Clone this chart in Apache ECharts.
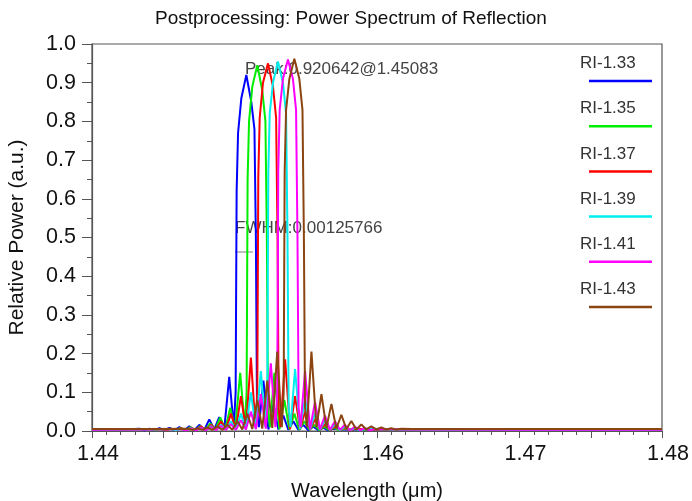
<!DOCTYPE html>
<html>
<head>
<meta charset="utf-8">
<script src="https://cdn.jsdelivr.net/npm/echarts@6/dist/echarts.min.js"></script>
<style>html,body{margin:0;padding:0;background:#fff}#c{width:692px;height:501px}</style>
</head>
<body>
<div id="c"></div>
<script>
// ---- data ----
const seriesNames = ['RI-1.33','RI-1.35','RI-1.37','RI-1.39','RI-1.41','RI-1.43'];
const seriesColors = ['#0000ff','#00ee00','#ff0000','#00eeee','#ff00ff','#8b4513'];

const wlBlue = [1.4400,1.4410,1.4420,1.4430,1.44333,1.44368,1.44403,1.44438,1.44473,1.44508,1.44543,1.44578,1.44613,1.44648,1.44683,1.44718,1.44753,1.44788,1.44823,1.44858,1.44893,1.44928,1.44963,1.44995,1.45008,1.45015,1.45025,1.45048,1.45083,1.45118,1.45140,1.45150,1.45158,1.45171,1.45203,1.45238,1.45273,1.45308,1.45343,1.45378,1.45413,1.45448,1.45483,1.45518,1.45553,1.45588,1.45623,1.45658,1.45693,1.4575,1.4590,1.4610,1.4650,1.4700,1.4750,1.4800];
const pwBlue = [0.003,0.004,0.004,0.005,0.006,0.002,0.006,0.002,0.007,0.002,0.008,0.002,0.010,0.002,0.012,0.002,0.016,0.003,0.030,0.004,0.036,0.004,0.140,0.010,0.100,0.620,0.770,0.860,0.920,0.850,0.780,0.500,0.060,0.010,0.130,0.004,0.070,0.004,0.040,0.003,0.025,0.003,0.016,0.002,0.011,0.002,0.008,0.002,0.006,0.004,0.004,0.003,0.003,0.003,0.003,0.003];

const wlGreen = [1.4400,1.4420,1.44410,1.44445,1.44480,1.44515,1.44550,1.44585,1.44620,1.44655,1.44690,1.44725,1.44760,1.44795,1.44830,1.44865,1.44900,1.44935,1.44970,1.45005,1.45040,1.45072,1.45085,1.45092,1.45102,1.45125,1.45160,1.45195,1.45217,1.45227,1.45235,1.45248,1.45280,1.45315,1.45350,1.45385,1.45420,1.45455,1.45490,1.45525,1.45560,1.45595,1.45630,1.45665,1.45700,1.45735,1.45770,1.4590,1.4620,1.4700,1.4800];
const pwGreen = [0.003,0.004,0.005,0.002,0.005,0.002,0.006,0.002,0.008,0.002,0.010,0.002,0.013,0.003,0.020,0.003,0.035,0.004,0.060,0.005,0.150,0.010,0.100,0.650,0.800,0.890,0.945,0.880,0.800,0.500,0.060,0.010,0.150,0.004,0.080,0.004,0.045,0.003,0.025,0.003,0.016,0.002,0.011,0.002,0.008,0.002,0.006,0.004,0.003,0.003,0.003];

const wlRed = [1.4400,1.4430,1.44485,1.44520,1.44555,1.44590,1.44625,1.44660,1.44695,1.44730,1.44765,1.44800,1.44835,1.44870,1.44905,1.44940,1.44975,1.45010,1.45045,1.45080,1.45115,1.45147,1.45160,1.45167,1.45177,1.45200,1.45235,1.45270,1.45292,1.45302,1.45310,1.45323,1.45355,1.45390,1.45425,1.45460,1.45495,1.45530,1.45565,1.45600,1.45635,1.45670,1.45705,1.45740,1.45775,1.45810,1.45845,1.4600,1.4650,1.4800];
const pwRed = [0.003,0.004,0.005,0.002,0.006,0.002,0.007,0.002,0.009,0.002,0.012,0.002,0.016,0.003,0.025,0.003,0.045,0.004,0.090,0.005,0.190,0.010,0.100,0.660,0.810,0.900,0.950,0.890,0.810,0.500,0.060,0.010,0.185,0.005,0.090,0.004,0.050,0.003,0.030,0.003,0.018,0.002,0.012,0.002,0.008,0.002,0.006,0.004,0.003,0.003];

const wlCyan = [1.4400,1.4435,1.44555,1.44590,1.44625,1.44660,1.44695,1.44730,1.44765,1.44800,1.44835,1.44870,1.44905,1.44940,1.44975,1.45010,1.45045,1.45080,1.45115,1.45150,1.45185,1.45217,1.45230,1.45237,1.45247,1.45270,1.45305,1.45340,1.45362,1.45372,1.45380,1.45393,1.45425,1.45460,1.45495,1.45530,1.45565,1.45600,1.45635,1.45670,1.45705,1.45740,1.45775,1.45810,1.45845,1.45880,1.45915,1.4610,1.4650,1.4800];
const pwCyan = [0.003,0.004,0.005,0.002,0.006,0.002,0.007,0.002,0.009,0.002,0.012,0.002,0.016,0.003,0.025,0.003,0.045,0.004,0.100,0.005,0.155,0.010,0.100,0.660,0.820,0.900,0.955,0.900,0.820,0.500,0.060,0.010,0.160,0.005,0.085,0.004,0.045,0.003,0.028,0.003,0.017,0.002,0.011,0.002,0.008,0.002,0.006,0.004,0.003,0.003];

const wlMagenta = [1.4400,1.4440,1.44625,1.44660,1.44695,1.44730,1.44765,1.44800,1.44835,1.44870,1.44905,1.44940,1.44975,1.45010,1.45045,1.45080,1.45115,1.45150,1.45185,1.45220,1.45255,1.45287,1.45300,1.45307,1.45317,1.45340,1.45375,1.45410,1.45432,1.45442,1.45450,1.45463,1.45495,1.45530,1.45565,1.45600,1.45635,1.45670,1.45705,1.45740,1.45775,1.45810,1.45845,1.45880,1.45915,1.45950,1.45985,1.4620,1.4700,1.4800];
const pwMagenta = [0.003,0.004,0.005,0.002,0.006,0.002,0.008,0.002,0.010,0.002,0.013,0.003,0.018,0.003,0.028,0.004,0.050,0.005,0.095,0.006,0.175,0.010,0.100,0.670,0.830,0.910,0.960,0.910,0.830,0.500,0.060,0.010,0.155,0.005,0.075,0.004,0.040,0.003,0.025,0.003,0.016,0.002,0.011,0.002,0.007,0.002,0.005,0.004,0.003,0.003];

const wlBrown = [1.4400,1.4420,1.4440,1.44670,1.44705,1.44740,1.44775,1.44810,1.44845,1.44880,1.44915,1.44950,1.44985,1.45020,1.45055,1.45090,1.45125,1.45160,1.45195,1.45230,1.45265,1.45300,1.45332,1.45345,1.45352,1.45362,1.45385,1.45420,1.45455,1.45477,1.45487,1.45495,1.45508,1.45540,1.45575,1.45610,1.45645,1.45680,1.45715,1.45750,1.45785,1.45820,1.45855,1.45890,1.45925,1.45960,1.45995,1.46030,1.46065,1.46100,1.46135,1.46170,1.4625,1.4650,1.4700,1.4750,1.4800];
const pwBrown = [0.005,0.005,0.005,0.006,0.003,0.007,0.003,0.009,0.003,0.012,0.003,0.016,0.003,0.025,0.004,0.045,0.005,0.080,0.006,0.130,0.008,0.205,0.010,0.100,0.670,0.830,0.910,0.962,0.910,0.830,0.500,0.060,0.010,0.205,0.010,0.095,0.008,0.070,0.006,0.042,0.005,0.026,0.004,0.017,0.004,0.012,0.004,0.009,0.004,0.007,0.004,0.006,0.005,0.005,0.005,0.005,0.005];

const titleText = 'Postprocessing: Power Spectrum of Reflection';
const xName = 'Wavelength (\u03bcm)';
const yName = 'Relative Power (a.u.)';
const peakNote = 'Peak:0.920642@1.45083';
const fwhmNote = 'FWHM:0.00125766';

// ---- build ----
const allWl = [wlBlue, wlGreen, wlRed, wlCyan, wlMagenta, wlBrown];
const allPw = [pwBlue, pwGreen, pwRed, pwCyan, pwMagenta, pwBrown];
const FONT = '"Liberation Sans", Arial, Helvetica, sans-serif';

const series = seriesNames.map((n, i) => ({
  name: n, type: 'line', showSymbol: false, symbol: 'none', animation: false,
  lineStyle: { color: seriesColors[i], width: 2 },
  itemStyle: { color: seriesColors[i] },
  data: allWl[i].map((w, j) => [w, allPw[i][j]])
}));

const graphic = [];
seriesNames.forEach((n, i) => {
  const y0 = 65 + i * 45.2;
  graphic.push({ type: 'text', left: 580, top: y0 - 10,
    style: { text: n, font: '17px ' + FONT, fill: '#333' } });
  graphic.push({ type: 'line', shape: { x1: 589, y1: y0 + 16, x2: 652, y2: y0 + 16 },
    style: { stroke: seriesColors[i], lineWidth: 2.5 } });
});
graphic.push({ type: 'text', left: 245, top: 61, style: { text: peakNote, font: '17px ' + FONT, fill: '#444' } });
graphic.push({ type: 'text', left: 235, top: 220, style: { text: fwhmNote, font: '17px ' + FONT, fill: '#444' } });
graphic.push({ type: 'line', shape: { x1: 235, y1: 252, x2: 253, y2: 252 }, style: { stroke: '#aaa', lineWidth: 1.5 } });

const chart = echarts.init(document.getElementById('c'), null, { renderer: 'canvas' });
chart.setOption({
  backgroundColor: '#fff',
  animation: false,
  title: { text: titleText, left: 150, top: 4,
    textStyle: { fontFamily: FONT, fontSize: 19, fontWeight: 'normal', color: '#111' } },
  grid: { left: 92, right: 30, top: 44, bottom: 70, containLabel: false, outerBoundsMode: 'none',
    show: true, borderColor: '#555', borderWidth: 1.2, backgroundColor: 'transparent' },
  xAxis: {
    type: 'value', min: 1.44, max: 1.48, interval: 0.005,
    name: xName, nameLocation: 'middle', nameGap: 50,
    nameTextStyle: { fontFamily: FONT, fontSize: 20, color: '#111', padding: [0, 20, 0, 0] },
    axisLine: { lineStyle: { color: '#555', width: 1.2 } },
    axisTick: { length: 7, lineStyle: { color: '#555' } },
    minorTick: { show: true, splitNumber: 5, length: 4, lineStyle: { color: '#555' } },
    splitLine: { show: false },
    axisLabel: { margin: 12, fontFamily: FONT, fontSize: 21.5, color: '#111', padding: [0, 0, 0, 12],
      formatter: v => { const k = Math.round(v * 1000); return k % 10 === 0 ? (k / 1000).toFixed(2) : ''; } }
  },
  yAxis: {
    type: 'value', min: 0, max: 1, interval: 0.1,
    name: yName, nameLocation: 'middle', nameGap: 64, nameRotate: 90,
    nameTextStyle: { fontFamily: FONT, fontSize: 21, color: '#111' },
    axisLine: { show: true, lineStyle: { color: '#555', width: 1.2 } },
    axisTick: { show: true, length: 10, lineStyle: { color: '#555' } },
    minorTick: { show: true, splitNumber: 2, length: 5, lineStyle: { color: '#555' } },
    splitLine: { show: false },
    axisLabel: { margin: 16, fontFamily: FONT, fontSize: 21.5, color: '#111', formatter: v => v.toFixed(1) }
  },
  series: series,
  graphic: graphic
});
</script>
</body>
</html>
